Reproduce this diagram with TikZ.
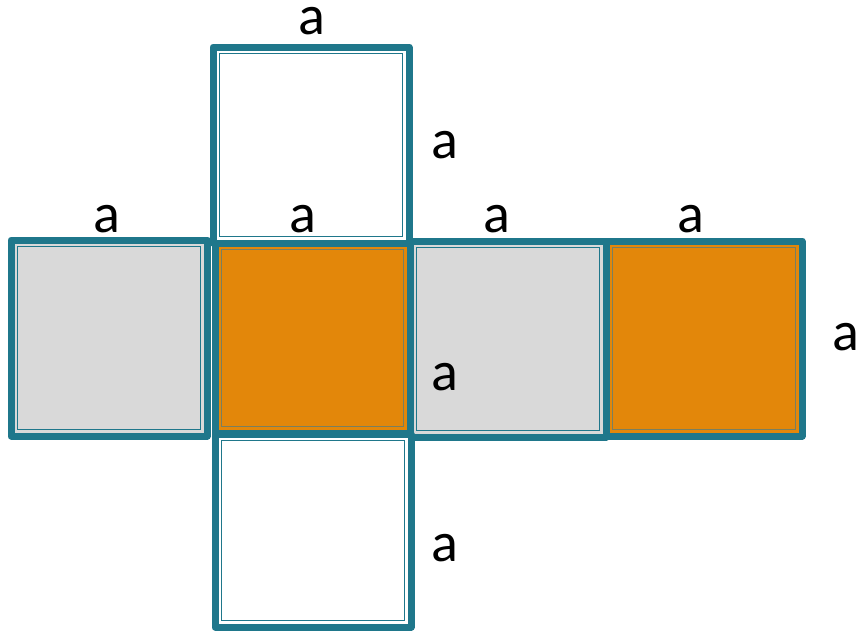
\documentclass[tikz,border=0pt]{standalone}
\usepackage{fontspec}
\setmainfont{Carlito}
\usetikzlibrary{positioning}

\definecolor{netteal}{RGB}{31,119,139}
\definecolor{netorange}{RGB}{227,135,10}
\definecolor{netgray}{RGB}{217,217,217}

\begin{document}
\begin{tikzpicture}[x=1pt,y=-1pt,
                    face/.style={rectangle,draw=netteal,line width=7pt,line join=round,
                                 inner sep=0pt,outer sep=0pt},
                    facewhite/.style={face,fill=white},
                    facegray/.style={face,fill=netgray},
                    faceorange/.style={face,fill=netorange},
                    inner/.style={draw=netteal,line width=1.6pt},
                    innerorange/.style={draw=netteal!55!netorange!70!gray,line width=1.6pt},
                    lbl/.style={font=\fontsize{56}{60}\selectfont,inner sep=0pt}]
    \useasboundingbox (0,0) rectangle (858,630);

    %Faces
    \node[facewhite, minimum width=196pt, minimum height=196pt] (top) at (311,145) {};
    \node[facegray, minimum width=196pt, minimum height=196pt] (left) at (109,338) {};
    \node[faceorange, minimum width=195pt, minimum height=190pt] (front) at (312.5,338) {};
    \node[facegray, minimum width=196pt, minimum height=196pt] (right) at (508,339) {};
    \node[faceorange, minimum width=196pt, minimum height=195pt] (back) at (704,338.5) {};
    \node[facewhite, minimum width=196pt, minimum height=193pt] (bottom) at (313,530.5) {};

    %Inner lines
    \draw[inner] ([shift={(6.5pt,6.5pt)}]top.south west) rectangle ([shift={(-6.5pt,-6.5pt)}]top.north east);
    \draw[inner] ([shift={(6.5pt,6.5pt)}]left.south west) rectangle ([shift={(-6.5pt,-6.5pt)}]left.north east);
    \draw[innerorange] ([shift={(6.5pt,6.5pt)}]front.south west) rectangle ([shift={(-6.5pt,-6.5pt)}]front.north east);
    \draw[inner] ([shift={(6.5pt,6.5pt)}]right.south west) rectangle ([shift={(-6.5pt,-6.5pt)}]right.north east);
    \draw[innerorange] ([shift={(6.5pt,6.5pt)}]back.south west) rectangle ([shift={(-6.5pt,-6.5pt)}]back.north east);
    \draw[inner] ([shift={(6.5pt,6.5pt)}]bottom.south west) rectangle ([shift={(-6.5pt,-6.5pt)}]bottom.north east);

    %Labels
    \node[lbl] (atop) at (311.5,21) {a};
    \node[lbl] (atopside) at (445,145) {a};
    \node[lbl] (aleft) at (107,219) {a};
    \node[lbl] (afront) at (303,219) {a};
    \node[lbl] (aright) at (497,219) {a};
    \node[lbl] (aback) at (691,219) {a};
    \node[lbl] (abackside) at (846,337) {a};
    \node[lbl] (amid) at (445,377) {a};
    \node[lbl] (abottom) at (445,548) {a};
\end{tikzpicture}
\end{document}
